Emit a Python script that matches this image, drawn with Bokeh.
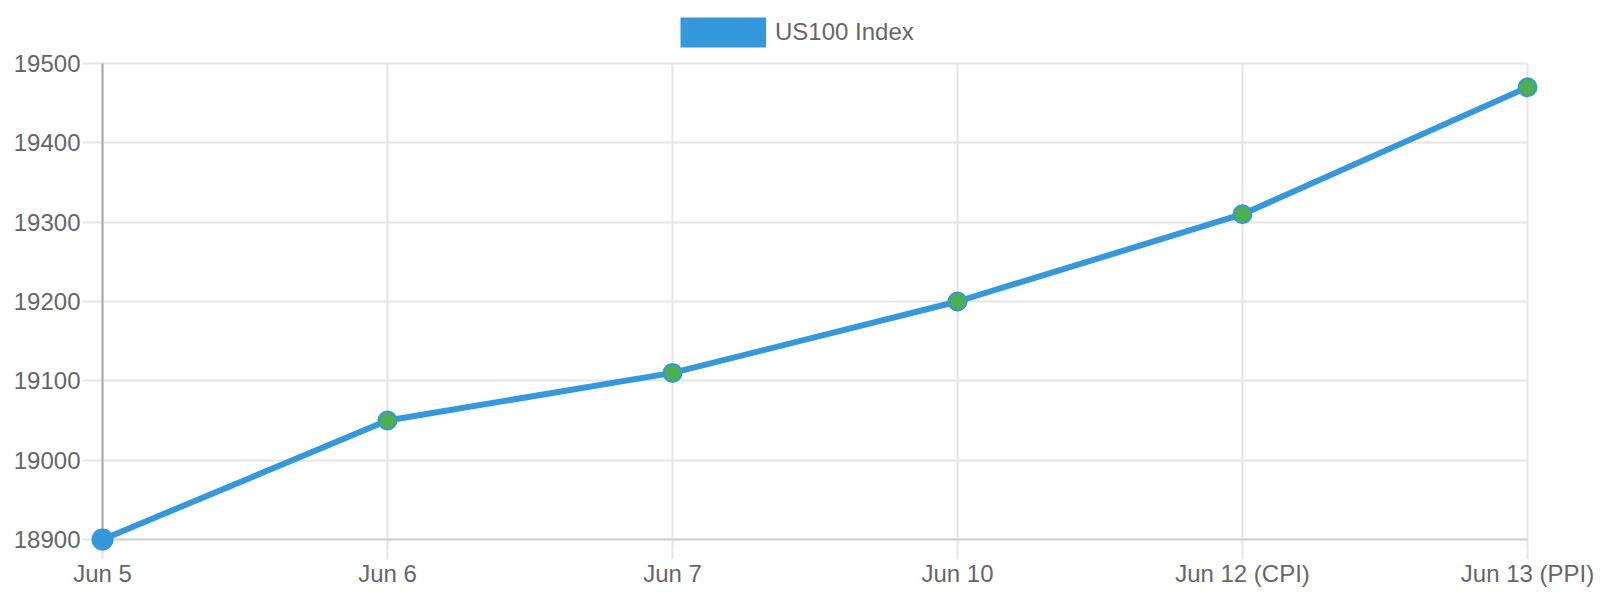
from bokeh.plotting import figure
from bokeh.models import Range1d, FixedTicker, Legend, LegendItem, Grid
from bokeh.embed import file_html
from bokeh.resources import INLINE

# ---- data ----
dates = ["Jun 5", "Jun 6", "Jun 7", "Jun 10", "Jun 12 (CPI)", "Jun 13 (PPI)"]
values = [18900, 19050, 19110, 19200, 19310, 19470]
y_ticks = [18900, 19000, 19100, 19200, 19300, 19400, 19500]
series_name = "US100 Index"

BLUE = "#3498db"
GREEN = "#4caf50"
TEXT = "#666666"
GRID = "#e5e5e5"
FONT = "Arial"

xs = list(range(len(dates)))
X_END = len(dates) - 1
# pixel scale of the data area (used only to pad the ranges)
PX_PER_X = 285.0
PX_PER_Y = 476.0 / (y_ticks[-1] - y_ticks[0])
X0, X1 = 0 - 12 / PX_PER_X, X_END + 12 / PX_PER_X
Y0, Y1 = y_ticks[0] - 12 / PX_PER_Y, y_ticks[-1] + 63 / PX_PER_Y

p = figure(width=1600, height=600, output_backend="svg", toolbar_location=None,
           x_range=Range1d(X0, X1), y_range=Range1d(Y0, Y1),
           min_border_left=90, min_border_right=61, min_border_top=0, min_border_bottom=49)
p.title.visible = False
p.outline_line_color = None
p.background_fill_color = "white"
p.border_fill_color = "white"

# axes
p.xaxis.ticker = FixedTicker(ticks=xs)
p.xaxis.major_label_overrides = {i: d for i, d in enumerate(dates)}
p.yaxis.ticker = FixedTicker(ticks=y_ticks)
for ax in (p.xaxis[0], p.yaxis[0]):
    ax.major_label_text_font = FONT
    ax.major_label_text_font_size = "24px"
    ax.major_label_text_color = TEXT
    ax.major_tick_out = 8
    ax.major_tick_in = 0
    ax.major_tick_line_color = GRID
    ax.major_tick_line_width = 2
    ax.minor_tick_line_color = None
    ax.axis_line_color = None
p.xaxis.major_label_standoff = 0
p.yaxis.major_label_standoff = 2

p.xgrid.grid_line_color = GRID
p.xgrid.grid_line_width = 2
p.xgrid.cross_bounds = (Y0, y_ticks[-1])
p.ygrid.grid_line_color = GRID
p.ygrid.grid_line_width = 2
p.ygrid.cross_bounds = (X0, X_END)

# darker border lines at the first category and the lowest value
p.add_layout(Grid(dimension=0, ticker=FixedTicker(ticks=[xs[0]]), grid_line_color="#a6a6a6",
                  grid_line_width=2, cross_bounds=(Y0, y_ticks[-1])))
p.add_layout(Grid(dimension=1, ticker=FixedTicker(ticks=[y_ticks[0]]), grid_line_color="#d0d0d0",
                  grid_line_width=2, cross_bounds=(X0, X_END)))

# legend swatch renderer: a one-point line draws nothing on the plot itself,
# but its legend glyph is a thick bar like Chart.js's filled box
swatch = p.line(xs[:1], values[:1], line_color=BLUE, line_width=30, line_cap="butt")

# series
p.line(xs, values, line_color=BLUE, line_width=6, line_join="round")
p.scatter(xs[:1], values[:1], size=22, fill_color=BLUE, line_color=BLUE, line_width=0)
p.scatter(xs[1:], values[1:], size=18, fill_color=GREEN, line_color=BLUE, line_width=2)

legend = Legend(items=[LegendItem(label=series_name, renderers=[swatch], index=0)],
                location=(590, 499), orientation="horizontal",
                glyph_width=86, glyph_height=40, label_height=40, label_standoff=9,
                padding=0, margin=0, spacing=0,
                border_line_color=None, background_fill_alpha=0,
                label_text_font=FONT, label_text_font_size="24px", label_text_color=TEXT)
p.add_layout(legend, "center")

open("out.html", "w").write(file_html(p, INLINE))
